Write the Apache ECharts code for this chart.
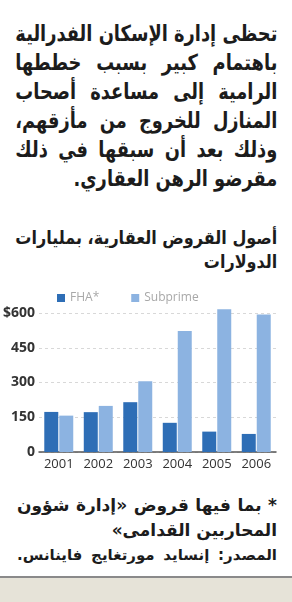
<!DOCTYPE html>
<html><head><meta charset="utf-8">
<script src="https://cdn.jsdelivr.net/npm/echarts@6/dist/echarts.min.js"></script>
<style>
html,body{margin:0;padding:0;width:292px;height:602px;background:#fff;overflow:hidden;}
.txt{position:absolute;direction:rtl;font-family:"DejaVu Sans",sans-serif;font-weight:bold;color:#1c1c1c;white-space:nowrap;transform-origin:100% 50%;}
.j{text-align:justify;text-align-last:justify;}
.r{text-align:right;}
.meas{position:absolute;visibility:hidden;white-space:nowrap;font-family:"DejaVu Sans",sans-serif;font-weight:bold;direction:rtl;}
#chart{position:absolute;left:0;top:280px;width:292px;height:200px;}
#foot{position:absolute;left:0;top:576px;width:292px;height:26px;background:#e6e3d8;border-top:2px solid #8a8a8a;}
</style></head>
<body>
<div id="intro"></div>
<div id="title"></div>
<div id="chart"></div>
<div id="notes"></div>
<div id="src"></div>
<div id="foot"></div>
<script>
const introLines = [
  "تحظى إدارة الإسكان الفدرالية",
  "باهتمام كبير بسبب خططها",
  "الرامية إلى مساعدة أصحاب",
  "المنازل للخروج من مأزقهم،",
  "وذلك بعد أن سبقها في ذلك",
  "مقرضو الرهن العقاري."
];
const titleLines = ["أصول القروض العقارية، بمليارات", "الدولارات"];
const noteLines = ["* بما فيها  قروض «إدارة شؤون", "المحاربين القدامى»"];
const sourceLine = "المصدر: إنسايد مورتغايج فاينانس.";

const categories = ["2001", "2002", "2003", "2004", "2005", "2006"];
const seriesNames = ["FHA*", "Subprime"];
const fhaValues = [173, 172, 215, 126, 88, 78];
const subprimeValues = [157, 199, 305, 522, 616, 593];
const yTickValues = [0, 150, 300, 450, 600];
const yTickLabels = ["0", "150", "300", "450", "$600"];

function natWidth(t, fs) {
  const s = document.createElement('span');
  s.className = 'meas'; s.style.fontSize = fs + 'px'; s.textContent = t;
  document.body.appendChild(s);
  const w = s.getBoundingClientRect().width;
  document.body.removeChild(s);
  return w;
}
function addLines(parentId, lines, opts) {
  const p = document.getElementById(parentId);
  const target = opts.right - opts.left;
  const isJ = i => opts.justify === true || (opts.justify && opts.justify[i]);
  let scale = 1;
  lines.forEach((t, i) => {
    if (isJ(i)) scale = Math.min(scale, target / natWidth(t, opts.fs));
  });
  const w = target / scale;
  lines.forEach((t, i) => {
    const d = document.createElement('div');
    d.className = 'txt ' + (isJ(i) ? 'j' : 'r');
    d.textContent = t;
    d.style.left = (opts.right - w) + 'px';
    d.style.width = w + 'px';
    d.style.top = (opts.top + i * opts.lh) + 'px';
    d.style.height = opts.lh + 'px';
    d.style.lineHeight = opts.lh + 'px';
    d.style.fontSize = opts.fs + 'px';
    d.style.transform = 'scaleX(' + scale + ')';
    p.appendChild(d);
  });
}
addLines('intro', introLines, {left: 15, right: 277, top: 19, lh: 29, fs: 22, justify: [true, true, true, true, true, false]});
addLines('title', titleLines, {left: 15, right: 277, top: 226, lh: 24, fs: 18, justify: [true, false]});
addLines('notes', noteLines, {left: 17, right: 277, top: 493, lh: 25, fs: 17, justify: [true, false]});
addLines('src', [sourceLine], {left: 17, right: 277, top: 543, lh: 24, fs: 15, justify: true});

const chart = echarts.init(document.getElementById('chart'), null, {renderer: 'canvas'});
chart.setOption({
  animation: false,
  backgroundColor: 'transparent',
  legend: {
    left: 57, top: 12, padding: 0, itemWidth: 8, itemHeight: 8, itemGap: 32, icon: 'rect',
    textStyle: {color: '#a8a8a8', fontSize: 12, fontFamily: 'Open Sans'},
    data: seriesNames
  },
  grid: {left: 39, right: 16, top: 33, bottom: 28, containLabel: false},
  xAxis: {
    type: 'category', data: categories,
    axisLine: {lineStyle: {color: '#555', width: 1.5}},
    axisTick: {alignWithLabel: true, length: 4, lineStyle: {color: '#555'}},
    axisLabel: {color: '#333', fontSize: 13, margin: 6, fontFamily: 'Open Sans'}
  },
  yAxis: {
    type: 'value', min: 0, max: 600, interval: 150,
    axisLine: {show: false}, axisTick: {show: false},
    axisLabel: {color: '#333', fontSize: 14, fontWeight: 'bold', margin: 4, fontFamily: 'Open Sans',
      formatter: v => yTickLabels[yTickValues.indexOf(v)]},
    splitLine: {lineStyle: {color: '#d8d8d8', type: [3, 3]}}
  },
  series: [
    {name: seriesNames[0], type: 'bar', data: fhaValues, barWidth: 14, barGap: '7%', clip: false,
     itemStyle: {color: '#2e6eb6'}},
    {name: seriesNames[1], type: 'bar', data: subprimeValues, barWidth: 14, clip: false,
     itemStyle: {color: '#8cb3e1'}}
  ]
});
</script>
</body></html>
